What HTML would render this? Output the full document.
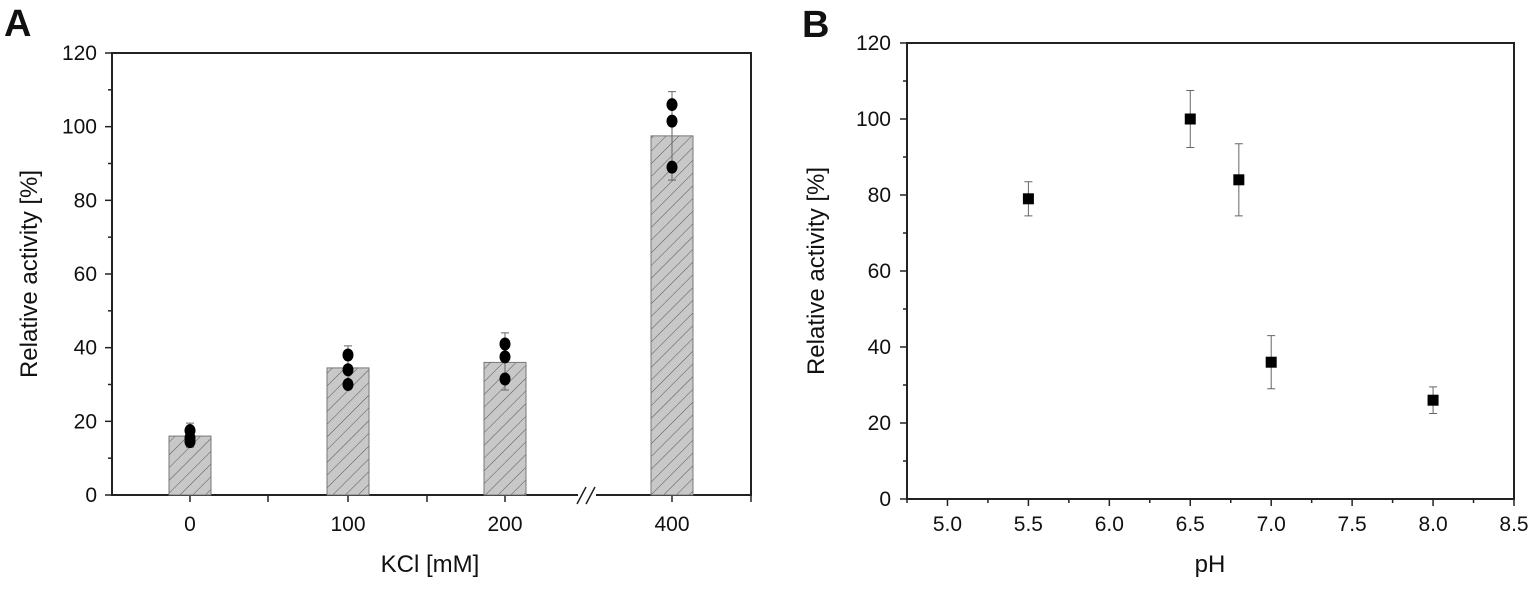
<!DOCTYPE html>
<html><head><meta charset="utf-8"><style>
body{margin:0;background:#fff;}
svg text{font-family:"Liberation Sans",sans-serif;fill:#111;}
</style></head><body>
<svg id="s" width="1535" height="585" xmlns="http://www.w3.org/2000/svg">
<defs><pattern id="hatch" patternUnits="userSpaceOnUse" width="9" height="9" patternTransform="rotate(45)"><rect width="9" height="9" fill="#c8c8c8"/><line x1="0" y1="0" x2="0" y2="9" stroke="#555" stroke-width="1"/></pattern></defs>
<text x="4" y="36" font-size="38" font-weight="bold">A</text>
<text x="802" y="37" font-size="38" font-weight="bold">B</text>
<g id="ga"></g><g id="gb"></g>
</svg>
<script>
const catsA=["0","100","200","400"];
const barA=[16,34.5,36,97.5];
const errLoA=[13,29,28.5,85.5];
const errHiA=[19.5,40.5,44,109.5];
const dotsA=[[17.5,15.5,14.5],[38,34,30],[41,37.5,31.5],[106,101.5,89]];
const catPosA=[190,348,505,672];
const yTicksA=[0,20,40,60,80,100,120];
const phX=[5.5,6.5,6.8,7.0,8.0];
const phY=[79,100,84,36,26];
const phLo=[74.5,92.5,74.5,29,22.5];
const phHi=[83.5,107.5,93.5,43,29.5];
const xTicksB=[5.0,5.5,6.0,6.5,7.0,7.5,8.0,8.5];
const yTicksB=[0,20,40,60,80,100,120];
const NS="http://www.w3.org/2000/svg";
function mk(p,t,a){const e=document.createElementNS(NS,t);for(const k in a)e.setAttribute(k,a[k]);p.appendChild(e);return e;}
// Panel A
const ga=document.getElementById('ga');
const aL=112,aR=751,aT=53,aB=495;
const yA=v=>aB-(v/120)*(aB-aT);
let e=mk(ga,'rect',{x:aL,y:aT,width:aR-aL,height:aB-aT,fill:'none',stroke:'#222','stroke-width':2});

for(let v=0;v<=120;v+=10){e=mk(ga,'line',{x1:aL-(v%20==0?7:4),x2:aL,y1:yA(v),y2:yA(v),stroke:'#222','stroke-width':1.5});}
yTicksA.forEach(v=>{e=mk(ga,'text',{x:aL-15,y:yA(v)+7,'font-size':21,'text-anchor':'end'});e.textContent=v;});
[190,268,348,427,505,672,751].forEach(x=>{e=mk(ga,'line',{x1:x,x2:x,y1:aB,y2:aB+7,stroke:'#222','stroke-width':1.5});});
e=mk(ga,'rect',{x:578,y:aB-4,width:18,height:10,fill:'#fff'});
e=mk(ga,'path',{d:'M577 504 L586 487 M586 504 L595 487',stroke:'#222','stroke-width':1.5,fill:'none'});
catsA.forEach((c,i)=>{
 const cx=catPosA[i];
 e=mk(ga,'rect',{x:cx-21,y:yA(barA[i]),width:42,height:aB-yA(barA[i]),fill:'url(#hatch)',stroke:'#777','stroke-width':1});
 e=mk(ga,'path',{d:`M${cx} ${yA(errLoA[i])}V${yA(errHiA[i])}M${cx-4} ${yA(errLoA[i])}h8M${cx-4} ${yA(errHiA[i])}h8`,stroke:'#666','stroke-width':1,fill:'none'});
 dotsA[i].forEach(d=>{e=mk(ga,'ellipse',{cx:cx,cy:yA(d),rx:5.5,ry:6.5,fill:'#000'});});
 e=mk(ga,'text',{x:cx,y:531,'font-size':21,'text-anchor':'middle'});e.textContent=c;
});
e=mk(ga,'text',{x:430,y:572,'font-size':24,'text-anchor':'middle'});e.textContent='KCl [mM]';
e=mk(ga,'text',{x:0,y:0,'font-size':24,'text-anchor':'middle',transform:`translate(37,${(aT+aB)/2}) rotate(-90)`});e.textContent='Relative activity [%]';
// Panel B
const gb=document.getElementById('gb');
const bL=907,bR=1514,bT=43,bB=499,xmin=4.75,xmax=8.5;
const xB=v=>bL+(v-xmin)/(xmax-xmin)*(bR-bL);
const yB=v=>bB-(v/120)*(bB-bT);
e=mk(gb,'rect',{x:bL,y:bT,width:bR-bL,height:bB-bT,fill:'none',stroke:'#222','stroke-width':2});
for(let v=0;v<=120;v+=10){e=mk(gb,'line',{x1:bL-(v%20==0?7:4),x2:bL,y1:yB(v),y2:yB(v),stroke:'#222','stroke-width':1.5});}
for(let v=4.75;v<=8.5001;v+=0.25){e=mk(gb,'line',{x1:xB(v),x2:xB(v),y1:bB,y2:bB+(Math.abs(v*2-Math.round(v*2))<0.01?7:4),stroke:'#222','stroke-width':1.5});}
yTicksB.forEach(v=>{e=mk(gb,'text',{x:bL-16,y:yB(v)+7,'font-size':21,'text-anchor':'end'});e.textContent=v;});
xTicksB.forEach(v=>{e=mk(gb,'text',{x:xB(v),y:531,'font-size':21,'text-anchor':'middle'});e.textContent=v.toFixed(1);});
phX.forEach((p,i)=>{
 const cx=xB(p);
 e=mk(gb,'path',{d:`M${cx} ${yB(phLo[i])}V${yB(phHi[i])}M${cx-4} ${yB(phLo[i])}h8M${cx-4} ${yB(phHi[i])}h8`,stroke:'#666','stroke-width':1,fill:'none'});
 e=mk(gb,'rect',{x:cx-5.5,y:yB(phY[i])-5.5,width:11,height:11,fill:'#000'});
});
e=mk(gb,'text',{x:1210,y:572,'font-size':24,'text-anchor':'middle'});e.textContent='pH';
e=mk(gb,'text',{x:0,y:0,'font-size':24,'text-anchor':'middle',transform:`translate(824,${(bT+bB)/2}) rotate(-90)`});e.textContent='Relative activity [%]';
</script>
</body></html>
